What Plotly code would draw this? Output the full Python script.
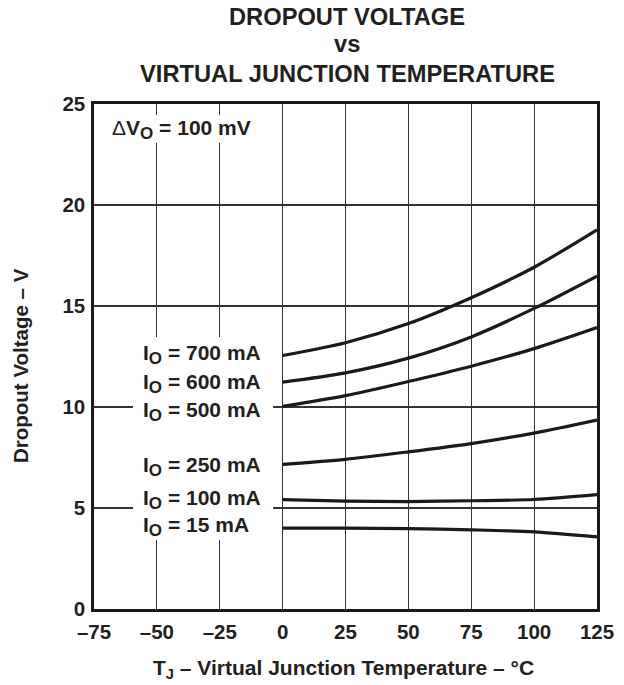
import plotly.graph_objects as go

# ---- data ----
temps = [0, 25, 50, 75, 100, 125]
v_700 = [12.55, 13.18, 14.13, 15.41, 16.92, 18.77]
v_600 = [11.23, 11.69, 12.42, 13.47, 14.88, 16.48]
v_500 = [10.03, 10.56, 11.26, 12.02, 12.89, 13.93]
v_250 = [7.16, 7.41, 7.78, 8.19, 8.71, 9.35]
v_100 = [5.41, 5.34, 5.32, 5.36, 5.42, 5.66]
v_15 = [4.00, 4.00, 3.98, 3.92, 3.82, 3.57]

series_values = [v_700, v_600, v_500, v_250, v_100, v_15]
currents = ["700", "600", "500", "250", "100", "15"]
label_y = [12.59, 11.14, 9.80, 7.06, 5.42, 4.08]

x_tickvals = [-75, -50, -25, 0, 25, 50, 75, 100, 125]
x_ticktext = ["\u201375", "\u201350", "\u201325", "0", "25", "50", "75", "100", "125"]
y_tickvals = [0, 5, 10, 15, 20, 25]
y_ticktext = ["0", "5", "10", "15", "20", "25"]

title_lines = ["DROPOUT VOLTAGE", "vs", "VIRTUAL JUNCTION TEMPERATURE"]
x_title = "T<sub>J</sub> \u2013 Virtual Junction Temperature \u2013 \u00b0C"
y_title = "Dropout Voltage \u2013 V"

FONT = "Liberation Sans, Arial, Helvetica, sans-serif"
TXT = "#231f20"
SUB = "<sub><span style='font-size:17px'>O</span></sub>"

fig = go.Figure()
for vals in series_values:
    fig.add_trace(go.Scatter(x=temps, y=vals, mode="lines",
                             line=dict(color="#1a1a1a", width=3.2, shape="spline", smoothing=0.8),
                             showlegend=False, hoverinfo="skip"))

axis_common = dict(showgrid=True, gridcolor="#333333", gridwidth=1.2,
                   showline=True, linecolor="#1a1a1a", linewidth=2.7, mirror=True,
                   zeroline=False, ticks="", fixedrange=True, automargin=False,
                   tickfont=dict(family=FONT, size=20.5, color=TXT, weight="bold"))

fig.update_xaxes(range=[-75, 125], tickvals=x_tickvals, ticktext=x_ticktext,
                 ticklabelstandoff=3, **axis_common)
fig.update_yaxes(range=[0, 25], tickvals=y_tickvals, ticktext=y_ticktext,
                 ticklabelstandoff=2, **axis_common)

annotations = []
title_py = [16.5, 44.5, 74.5]
for txt, py in zip(title_lines, title_py):
    annotations.append(dict(text="<b>%s</b>" % txt, xref="paper", yref="paper",
                            x=0.503, y=(609 - py) / 505, xanchor="center", yanchor="middle",
                            showarrow=False, font=dict(family=FONT, size=23.7, color=TXT)))
annotations.append(dict(text="<b>%s</b>" % x_title, xref="paper", yref="paper",
                        x=0.496, y=(609 - 669) / 505, xanchor="center", yanchor="middle",
                        showarrow=False, font=dict(family=FONT, size=21, color=TXT)))
annotations.append(dict(text="<b>%s</b>" % y_title, xref="paper", yref="paper",
                        x=(20 - 94) / 503, y=(609 - 366) / 505, xanchor="center", yanchor="middle",
                        textangle=-90, showarrow=False, font=dict(family=FONT, size=20.5, color=TXT)))
for cur, yy in zip(currents, label_y):
    annotations.append(dict(text="<b>I%s = %s mA</b>" % (SUB, cur), x=-56.4, y=yy, xref="x", yref="y",
                            xanchor="left", yanchor="middle", showarrow=False,
                            font=dict(family=FONT, size=21, color=TXT)))
annotations.append(dict(text="\u0394<b>V%s = 100 mV</b>" % SUB, x=-68.6, y=23.74, xref="x", yref="y",
                        xanchor="left", yanchor="middle", showarrow=False,
                        font=dict(family=FONT, size=21, color=TXT)))

shapes = [
    dict(type="rect", xref="x", yref="y", x0=-59.5, x1=-3.8, y0=3.42, y1=13.47,
         fillcolor="white", line=dict(width=0), layer="above"),
    dict(type="rect", xref="x", yref="y", x0=-70.6, x1=-7.0, y0=23.07, y1=24.46,
         fillcolor="white", line=dict(width=0), layer="above"),
]

fig.update_layout(width=624, height=685, margin=dict(l=94, r=27, t=104, b=76, autoexpand=False),
                  paper_bgcolor="white", plot_bgcolor="white",
                  annotations=annotations, shapes=shapes,
                  font=dict(family=FONT, color=TXT))

fig.write_html("out.html", config={"displayModeBar": False, "staticPlot": True},
               post_script="document.body.style.margin='0px';")
